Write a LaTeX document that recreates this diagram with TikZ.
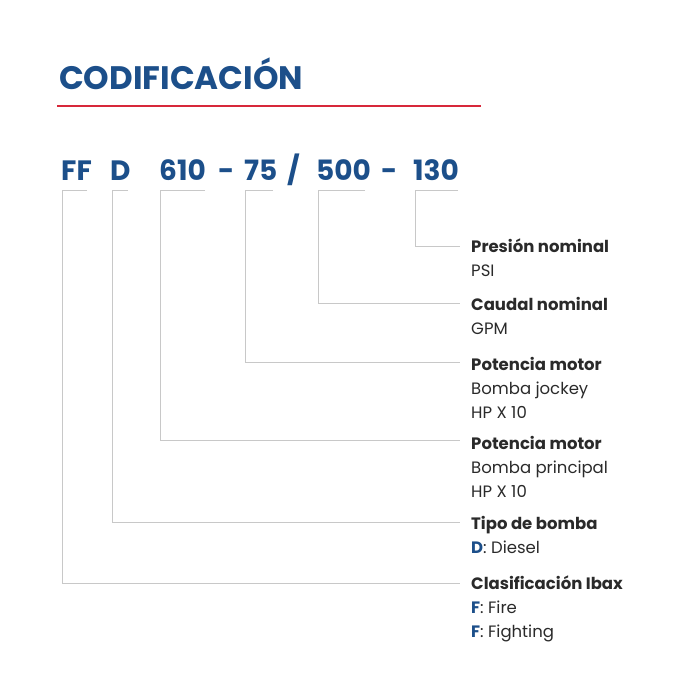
\documentclass[tikz,border=0pt]{standalone}
\usepackage{fontspec}
\setmainfont{Poppins}
\definecolor{cblue}{HTML}{1C4F8A}
\definecolor{cred}{HTML}{D7283A}
\definecolor{cline}{HTML}{C8C8C8}
\definecolor{ctext}{HTML}{2A2A2A}
\begin{document}
\begin{tikzpicture}[x=1pt,y=-1pt,
  code/.style={anchor=base west,inner sep=0pt,text=cblue,font=\fontsize{28}{30}\selectfont\bfseries},
  lab/.style={anchor=north west,inner sep=0pt,align=left,text=ctext,font=\fontsize{16.5}{24}\selectfont},
  br/.style={draw=cline,line width=0.8pt}]
\useasboundingbox (0,0) rectangle (700,700);
\node[anchor=base west,inner sep=0pt,text=cblue,font=\fontsize{32.5}{36}\selectfont\bfseries] (title) at (59,90) {CODIFICACIÓN};
\draw[cred,line width=2pt] (57,106) -- (481,106);
\node[code] (ff) at (61,181) {FF};
\node[code] (d) at (110,181) {D};
\node[code] (c610) at (159,181) {610};
\node[code] (dash1) at (218,181) {-};
\node[code] (c75) at (244,181) {75};
\node[code] (sl) at (287,181) {/};
\node[code] (c500) at (316,181) {500};
\node[code] (dash2) at (381,181) {-};
\node[code] (c130) at (413,181) {130};
% labels
\node[lab] (l1) at (471,239) {\textbf{Presión nominal}\\PSI};
\node[lab] (l2) at (471,297) {\textbf{Caudal nominal}\\GPM};
\node[lab] (l3) at (471,357) {\textbf{Potencia motor}\\Bomba jockey\\HP X 10};
\node[lab] (l4) at (471,436) {\textbf{Potencia motor}\\Bomba principal\\HP X 10};
\node[lab] (l5) at (471,516) {\textbf{Tipo de bomba}\\\textcolor{cblue}{\textbf{D}}: Diesel};
\node[lab] (l6) at (471,576) {\textbf{Clasificación Ibax}\\\textcolor{cblue}{\textbf{F}}: Fire\\\textcolor{cblue}{\textbf{F}}: Fighting};
% brackets
\coordinate (e1) at (460,246);
\coordinate (e2) at (460,303);
\coordinate (e3) at (460,362);
\coordinate (e4) at (460,440);
\coordinate (e5) at (460,522);
\coordinate (e6) at (460,583);
\draw[br] (458,190) -- (415,190) -- (415,246) -- (e1);
\draw[br] (365,190) -- (318,190) -- (318,303) -- (e2);
\draw[br] (273,190) -- (245,190) -- (245,362) -- (e3);
\draw[br] (205,190) -- (160,190) -- (160,440) -- (e4);
\draw[br] (128,190) -- (112,190) -- (112,522) -- (e5);
\draw[br] (87,190) -- (62,190) -- (62,583) -- (e6);
\end{tikzpicture}
\end{document}
